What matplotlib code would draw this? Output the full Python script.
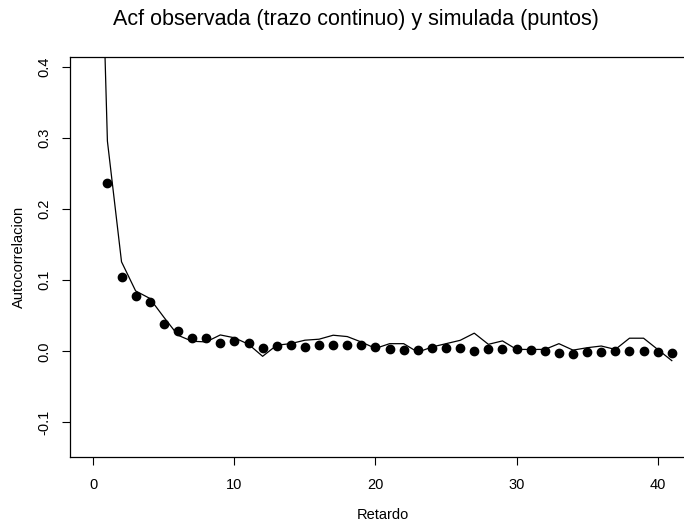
import numpy as np
import matplotlib
matplotlib.use("Agg")
import matplotlib.pyplot as plt

plt.rcParams['font.family'] = ['Liberation Sans', 'DejaVu Sans']

# acf observada (lag 0..41) y simulada (lag 1..41)
lags_obs = np.arange(0, 42)
acf_obs = [1.0, 0.296, 0.126, 0.085, 0.0745, 0.048, 0.0226, 0.0141, 0.0132, 0.023,
           0.019, 0.0099, -0.0071, 0.0085, 0.0108, 0.0156, 0.017, 0.0226, 0.0207, 0.013,
           0.004, 0.0107, 0.0107, -0.0013, 0.006, 0.0107, 0.0154, 0.0255, 0.0098, 0.0146,
           0.0026, 0.0026, 0.0026, 0.0107, 0.0016, 0.005, 0.0074, 0.0026, 0.0184, 0.0184,
           0.0026, -0.0132]
lags_sim = np.arange(1, 42)
acf_sim = [0.237, 0.105, 0.078, 0.069, 0.039, 0.029, 0.019, 0.018, 0.011, 0.014,
           0.011, 0.004, 0.0075, 0.0085, 0.0066, 0.009, 0.009, 0.009, 0.009, 0.006,
           0.0035, 0.0016, 0.0016, 0.004, 0.004, 0.004, 0.0007, 0.0026, 0.0026, 0.0026,
           0.002, 0.0007, -0.0027, -0.0037, -0.0013, -0.0013, 0.0001, 0.001, 0.001, -0.0008,
           -0.003]
xticks = [0, 10, 20, 30, 40]
yticks = [-0.1, 0.0, 0.1, 0.2, 0.3, 0.4]

fig = plt.figure(figsize=(6.84, 5.25), dpi=100)
ax = fig.add_axes([70.3/684, 1 - 456.7/525, (694.8 - 70.3)/684, (456.7 - 56.7)/525])

ax.plot(lags_obs, acf_obs, color='black', lw=0.9)
ax.plot(lags_sim, acf_sim, 'o', color='black', ms=6)

ax.set_xlim(-1.63, 42.63)
ax.set_ylim(-0.1485, 0.4149)
ax.set_xticks(xticks)
ax.set_xticklabels([str(t) for t in xticks])
ax.set_yticks(yticks)
ax.set_yticklabels(['-0.1', '0.0', '0.1', '0.2', '0.3', '0.4'], rotation=90, va='center')
ax.tick_params(direction='out', length=5.5, width=0.8, labelsize=10.5, pad=10)
ax.tick_params(axis='y', pad=8)
for s in ax.spines.values():
    s.set_linewidth(0.9)

fig.text(356/684, 1 - 25/525, 'Acf observada (trazo continuo) y simulada (puntos)',
         ha='center', va='baseline', fontsize=15.5)
fig.text(382.5/684, 1 - 515/525, 'Retardo', ha='center', va='center', fontsize=10.5)
fig.text(18.5/684, 1 - 256.7/525, 'Autocorrelacion', ha='center', va='center',
         rotation=90, fontsize=10.5)

fig.savefig('out.png', dpi=100)
